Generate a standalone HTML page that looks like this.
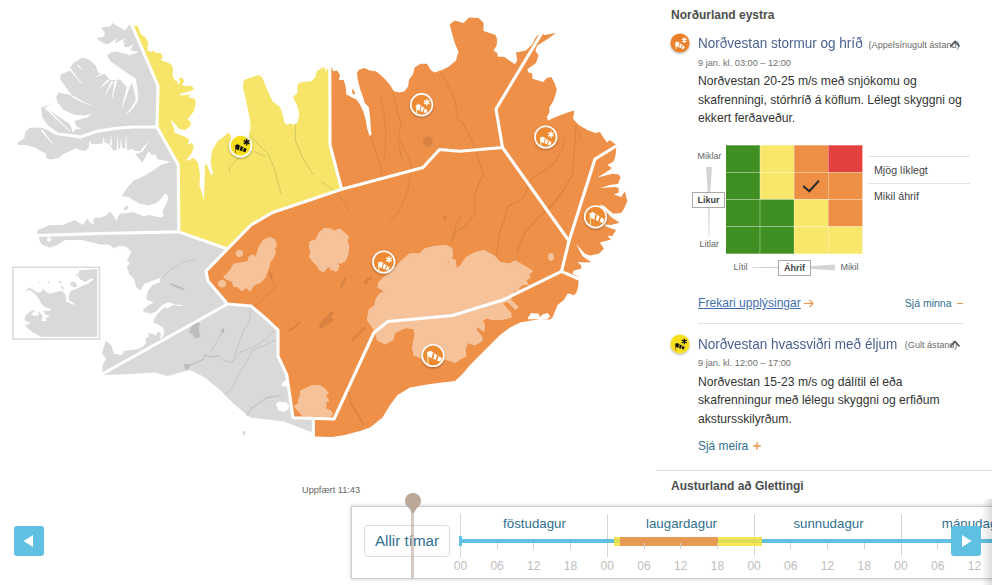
<!DOCTYPE html>
<html>
<head>
<meta charset="utf-8">
<title>Viðvaranir</title>
<style>
*{box-sizing:border-box;margin:0;padding:0}
html,body{width:992px;height:585px;overflow:hidden;background:#fff;font-family:"Liberation Sans",sans-serif;color:#333}
#wrap{position:relative;width:992px;height:585px;overflow:hidden;background:#fff}
#map{position:absolute;left:0;top:0;width:656px;height:470px}
.abs{position:absolute;white-space:nowrap}
/* right panel */
#panel{position:absolute;left:656px;top:0;width:336px;height:500px;background:#fff}
.h3{position:absolute;left:15px;font-weight:bold;font-size:12px;color:#4e4e4e;white-space:nowrap}
.ttl{position:absolute;left:42px;font-size:13.55px;line-height:16px;color:#4a6391;white-space:nowrap}
.tt{display:inline-block;font-size:14.4px;transform:scaleX(.94);transform-origin:0 50%}
.sm{position:absolute;font-size:9.1px;line-height:10px;color:#6a6a6a;white-space:nowrap}
.dt{position:absolute;left:42px;font-size:9.2px;color:#707070;white-space:nowrap}
.bd{position:absolute;left:42px;font-size:12.15px;line-height:18.5px;color:#333;white-space:nowrap}
.lnk{color:#2f6f8f}
.or{color:#ec9447}
.hr{position:absolute;height:1px;background:#e4e4e4}
/* timeline */
#tl{position:absolute;left:351px;top:506px;width:660px;height:72.5px;border:1.3px solid #cdcdcd;background:#fff;box-shadow:0 0 4px rgba(0,0,0,.22)}
.day{position:absolute;top:515.5px;font-size:13.3px;color:#2f6f8f;text-align:center;width:147px;white-space:nowrap}
.hrl{position:absolute;top:559px;font-size:12px;color:#bdbdbd;width:30px;text-align:center}
.sep{position:absolute;top:514px;width:1px;height:42.5px;background:#d6d6d6}
.tick{position:absolute;top:543px;width:1px;height:6px;background:#d0d0d0}
.btn{position:absolute;width:30px;height:30px;border-radius:3px;background:#5fc0e2}
</style>
</head>
<body>
<div id="wrap">

<svg id="map" width="656" height="470" viewBox="0 0 656 470">
<defs>
<g id="sockL"><path d="M-5.5 -3.8 L-4.9 8.2" stroke="#fff" stroke-width=".9" fill="none"/><path d="M-5.1 -3 L-4.6 8" stroke="#f6d24a" stroke-width=".5" fill="none"/>
<path d="M-5.3 -3.6 L-2.6 -4.7 L9 2.8 L7.1 6.3 L-4.8 1 Z" fill="#fff"/>
<path d="M-0.10 -2.80 L1.46 -1.84 L0.31 3.23 L-1.09 2.59 Z M4.06 -0.24 L5.62 0.72 L4.06 4.92 L2.65 4.29 Z" fill="#e9822c"/></g>
<g id="sockS"><path d="M-5.4 .3 L-4.8 8.4" stroke="#fff" stroke-width=".9" fill="none"/><path d="M-5 1 L-4.5 8.2" stroke="#f6d24a" stroke-width=".5" fill="none"/>
<path d="M-5.2 .4 L-2.9 -.6 L5.9 5.6 L4.4 8.5 L-4.7 5 Z" fill="#fff"/>
<path d="M-0.93 1.18 L-0.02 1.77 L-0.99 6.41 L-1.83 6.09 Z M2.33 3.29 L3.25 3.88 L1.98 7.56 L1.15 7.24 Z" fill="#e9822c"/></g>
<g id="sockK"><path d="M-5.3 -.9 L-4.85 7.5" stroke="#9a5a2a" stroke-width=".9" fill="none"/>
<path d="M-5.1 -.8 L-3 -1.5 L6.1 3.3 L4.8 6.4 L-4.8 3.4 Z" fill="#111"/>
<path d="M-0.80 -0.12 L0.13 0.34 L-0.77 4.60 L-1.63 4.32 Z M2.50 1.51 L3.42 1.97 L2.30 5.59 L1.44 5.32 Z" fill="#f8df1f"/></g>
<g id="flakeW"><path d="M0 -3.3 L0 3.3 M-2.86 -1.65 L2.86 1.65 M-2.86 1.65 L2.86 -1.65" stroke="#fff" stroke-width="1.45" fill="none"/></g>
<g id="flakeK"><path d="M0 -3.3 L0 3.3 M-2.86 -1.65 L2.86 1.65 M-2.86 1.65 L2.86 -1.65" stroke="#111" stroke-width="1.45" fill="none"/></g>
<filter id="sh" x="-30%" y="-30%" width="160%" height="170%"><feGaussianBlur in="SourceAlpha" stdDeviation="0.8"/><feOffset dy="1"/><feComponentTransfer><feFuncA type="linear" slope=".35"/></feComponentTransfer><feMerge><feMergeNode/><feMergeNode in="SourceGraphic"/></feMerge></filter>
</defs>
<path d="M131.5 25.5 L129 25 L125.3 30.3 L118.9 27 L112.4 23 L110.8 26.3 L101.1 27.5 L105.2 33.5 L103.5 36.8 L96.7 38 L100.3 41.6 L106.8 44.4 L112.4 41.6 L116.5 38 L114.8 43.6 L121.3 40 L124.5 38.4 L122.9 43.2 L125.3 47.3 L130.2 46.5 L133.4 43.6 L132 47.5 L130.2 50.5 L135 51 L139 51.7 L135 53.5 L131 54.5 L129.4 55.5 L125 53.5 L121.3 53 L116.5 51.3 L111 52.5 L107.2 55.3 L110 61 L120 68 L130 75 L135 78 L133 81 L130 87 L126 86 L120 79.5 L115 80 L110 80 L105 74 L98 72.5 L96 66 L90 60 L82.5 57.5 L74 62.5 L70 67.5 L71 70.5 L61 74 L60 79 L65 86.25 L72.5 96 L68.75 94.4 L58.75 92.5 L56 97 L57.5 102.5 L50 104.5 L41 107.5 L42.5 117.5 L47.5 125 L57.5 132.5 L63.75 135.5 L56 135 L47.5 130 L42.5 128 L36 127.5 L29.4 128 L25 132.5 L24.4 138 L17.5 142.5 L18 145 L26 145 L35 147.5 L41 151 L46 153.75 L46 157.5 L50 159.4 L58.75 158 L63.75 153.75 L72.5 150 L77 148 L78.75 150 L85 151 L88.75 147.5 L89.5 143 L92.5 144 L97.5 144 L101 143.75 L106 142.5 L110 145 L113.75 151 L118.75 148.75 L123 148 L128.75 150 L132.5 148.75 L135 151 L140 151 L142.5 152 L135 154 L142.5 162.5 L148.75 151 L152 155.6 L155 154 L158 160 L170 162 L161 165 L150 172.5 L141 177.5 L133.75 180.6 L127.5 187.5 L123 193.75 L122 196.25 L128.75 197 L133.75 200.6 L140 203.75 L148.75 205.6 L156.25 203 L161.25 198.75 L163.75 194.4 L166.25 193.75 L168 196.25 L167.5 201.25 L165 206.25 L162.5 211.25 L163.75 215 L161.9 217.5 L155 216.25 L148.75 215 L143.75 216.25 L137.5 213.75 L132.5 211.9 L127.5 213 L120 213.75 L117.5 217.5 L116.9 221.25 L113.75 216.25 L110 211.5 L106.25 215.6 L99.4 218 L95 217.5 L93 220 L94.4 224.4 L90 222.5 L87.5 218.5 L82.5 225 L75 220 L62.5 225 L50 225 L37.5 230 L37.5 236 L100 234 L180 232.5 L179.2 165 L158 127 L159 86 Z" fill="#d9d9d9"/>
<path d="M37.5 235 L100 233 L179.5 231.5 L227.5 249 L206 271.2 L208 281 L227.5 304 L251 306 L267.5 320 L278 330 L278 356 L286.8 375 L293 417.8 L314 419 L314 436 L313.5 436 L311.4 432.2 L299.5 427.4 L284 421.4 L267.5 419.5 L250 417.5 L235 405 L220 390 L205 377.5 L190 370 L180 372.5 L167.5 376 L155 372.5 L130 374 L102.5 375 L102.5 370 L102.5 365 L106.25 358.75 L101.9 353.75 L103.75 347.5 L105.6 340.6 L111.25 345 L113.75 353.75 L121.9 355 L123.75 351.25 L130 350 L136.25 349.4 L142.5 346.9 L146.25 343 L145 338.75 L149.4 336.25 L147.5 333 L152.5 333.75 L156.25 335.6 L157.5 331.25 L161.25 333.75 L160 338.75 L162.5 337.5 L164.4 332.5 L163 327.5 L156.25 323.75 L153 322.5 L155 317.5 L160 311.25 L165 306.9 L167.5 308.75 L172.5 305 L181.25 306.25 L182.5 305 L175 304.4 L168.75 301.9 L162.5 305 L156.25 311.25 L151.25 313.75 L145 312.5 L142.5 310.6 L148.75 305 L153.75 302.5 L147.5 300 L146.25 298.25 L148 290.75 L152.5 285 L160 282 L161.25 277.6 L152.5 280.75 L144.4 283.9 L140 290.75 L136.25 287 L133.75 278.25 L129.4 274.5 L126.9 266.4 L130 263.25 L126.9 260.75 L131.25 252 L126.25 246.4 L118.75 245.75 L113.75 248.25 L108.75 244.5 L100 244.5 L82.5 240 L65 240 L57.5 245 L50 247.5 L41 244 L39 237.5 Z" fill="#d9d9d9"/>
<path d="M131.5 25.5 L136 26 L137.5 25.4 L139.4 30 L140.6 33.75 L145.6 37.5 L148 42.5 L147.5 50.6 L151.9 51.9 L154.4 50 L155 52.75 L160.6 53 L163 56.9 L160.6 60 L167.5 62.5 L171.9 65 L173 70 L172.5 76.25 L175 80.6 L177.5 81.25 L177.5 85 L180 82.5 L178.75 78.75 L181.25 77.5 L184.4 80.6 L181.9 84.4 L185 86.25 L190.6 85.6 L194.4 88.75 L191 91 L180 93.75 L180.6 95.6 L190 94.4 L188.75 97.5 L195 98.75 L195.6 103.75 L193.75 111.25 L187.5 119.4 L191.25 122.5 L190 126.25 L185 130 L178.75 128.75 L175 123.75 L170 119.4 L173.75 127.5 L174.4 132.5 L177.5 133.75 L186.25 137.5 L189.4 139.4 L187.5 145 L191.9 143 L193.75 146.25 L191.9 153 L185.6 161.25 L193.75 158 L198 162.5 L200 175 L199.4 185 L202.5 195 L204 200 L204.4 183.75 L205 165 L206.9 163.75 L208.75 170 L211.9 175.6 L213 173.75 L210.6 162.5 L211.9 151.25 L217.5 141.25 L228.75 132.5 L230.6 135.6 L231 142 L236 147 L243 148 L248 142 L249.4 133 L250.6 127.5 L250 120 L248 110 L245 96.25 L243 87.5 L243.75 80 L258 75 L262 76.9 L266.25 87.5 L272.5 101.25 L280 106.9 L282.5 113.75 L284.4 122.5 L286.9 125 L290 123 L293 125 L297.5 122.5 L299.4 115 L297.5 106.25 L293 96.9 L297.5 93 L297.5 85 L300 82.5 L311.25 81.25 L315 77.5 L316.9 71.25 L322.5 67.5 L325 68 L325.6 71.9 L327.5 68.75 L329 68 L330.5 100 L330.5 145 L342 189.8 L272.5 213 L251 225.5 L227.5 249.5 L178.8 232.5 L178.3 165 L157 127 L157.5 86 Z" fill="#f6e568"/>
<path d="M329.5 66 L331.4 66.9 L333.25 71.25 L337 70.6 L340 75 L339 80 L343.9 80 L345.75 87.5 L346.4 94.4 L352 97.5 L356.4 99.4 L359.5 103.75 L363.25 111.25 L365.75 120 L367 128 L369.5 136 L371.5 135 L370.75 128 L370 116.25 L368.9 107.5 L364.5 102.5 L363.25 97.5 L360 88.75 L357.6 78.75 L357 72.5 L359.5 69.4 L364.5 68 L369.5 70.6 L375.75 71.25 L380.75 75 L385.75 80 L390 85 L393.9 91.25 L399.5 92.5 L404.5 91.25 L408.25 86.25 L408.9 80 L413.25 73.75 L414.5 67.5 L420.75 63.75 L427 63.75 L430.75 70 L434.5 72.5 L442 70 L448.5 66.75 L456 60.5 L458.5 51.75 L454.75 43 L451.6 31.75 L449.75 24.25 L454.75 20.5 L463.5 23 L469 17.4 L478.5 18 L483.5 22.4 L483.5 31 L489.75 33 L495.4 34.9 L497.25 39.25 L496.6 45.5 L493.5 50.5 L497.25 53 L497.9 56.75 L504 56.75 L514.75 64.25 L517.25 60.5 L516 52.4 L526 50.5 L532.25 44.25 L536 36.75 L541.6 33 L544.75 34.9 L556 33 L548.5 38.6 L537.25 45.5 L535.4 50.5 L538.5 55.5 L536 63 L527.25 69.25 L528.5 72.4 L532.25 73.6 L532.5 78.75 L543 81.9 L546.9 78 L551.25 76.9 L554.4 82.5 L556.9 90 L553.75 100 L549.4 107.5 L549.4 112.5 L546.9 116.9 L548 120.6 L557.5 116.25 L567.5 112.5 L574.4 110.6 L573 118.75 L578.75 125 L587.5 130 L595 133 L600 131.9 L602.5 136.25 L606.9 142.5 L610 140 L616.25 145 L616.25 148 L615.6 155 L613.75 161.25 L607.5 165 L611.9 168 L607.5 171.25 L597.5 177.5 L612.5 173.75 L618.75 174.4 L620.6 177.5 L618 183.75 L610 185 L600 188 L615 186.9 L618.75 188 L618.75 192.5 L613.75 194.4 L621.25 196.9 L625 191.25 L627.25 201.25 L624 208.75 L621 213 L613.5 213.75 L608.5 210 L604.75 206.25 L599 204.4 L606 211.25 L611 216.9 L614.75 219.4 L619.75 222.75 L611 225 L605.4 224.4 L605.4 226.25 L616 230 L612.25 236.25 L607.25 235.6 L611 239.4 L599.75 242.5 L604 248.75 L598.75 253.75 L590 255.6 L585 253.75 L578 246 L576 243.75 L582.5 256.25 L591.25 261.9 L586.25 262.5 L577.5 261.9 L581.25 265.6 L581.25 268.75 L573.75 270.6 L572.5 273.75 L578.75 276.9 L578.75 280.6 L578 287.5 L576.25 293 L573 295.6 L571.25 293.75 L567.5 293.75 L563.75 300 L557.5 305 L555 311.25 L552.5 317.5 L550 319.4 L540 319 L520 322.5 L510 327.5 L500 335 L490 345 L480 355 L470 365 L462.5 374 L455 381 L430 384 L410 387.5 L397.5 395 L390 405 L382.5 417.5 L370 427.5 L360 431 L343.7 435.2 L331.8 437 L315 436.6 L313 436.5 L313 418 L293 417.8 L286.8 375 L278 356 L278 330 L267.5 320 L251 306 L227.5 304 L208 281 L206 271.2 L227.5 249 L251 225 L272.5 212.5 L341.7 189.3 L330 145 Z" fill="#ee9048"/>
<path d="M242.5 431 L246 431.5 L244 436.5 Z" fill="#d9d9d9"/>
<path d="M124 207.5 L128 205.6 L127.5 209.4 L124.4 210.6 Z" fill="#d9d9d9"/>
<path d="M346 384 L348.5 391.5 L350.9 403.5 L355.7 410.7 L360 417.8 L363 425" fill="none" stroke="#d98241" stroke-width="1.5" stroke-linejoin="round" stroke-linecap="round"/>
<path d="M461 120 L468 133 L475.7 150 L483.2 174.4 L474.8 193.2 L474.8 213.9 L464.4 227 L453.2 232.7 L451.3 244" fill="none" stroke="#d98541" stroke-width="1.15" stroke-linejoin="round" stroke-linecap="round"/>
<path d="M576 126 L574.4 150 L572.5 174.4 L564 189.5" fill="none" stroke="#d98541" stroke-width="1.15" stroke-linejoin="round" stroke-linecap="round"/>
<path d="M564 189.5 L558 198 L552.8 204.5 L546 211" fill="none" stroke="#d98241" stroke-width="1.7" stroke-linejoin="round" stroke-linecap="round"/>
<path d="M546 211 L537.7 217.7 L524.6 232.7 L517 251.5" fill="none" stroke="#d98541" stroke-width="1.15" stroke-linejoin="round" stroke-linecap="round"/>
<path d="M565 137.5 L562.2 150 L552.8 165 L532.1 178.2 L522.7 198.9 L507.7 206.4 L503.9 221.4 L500.2 229 L496.4 255" fill="none" stroke="#d98541" stroke-width="1.15" stroke-linejoin="round" stroke-linecap="round"/>
<path d="M578.75 130 L581 141" fill="none" stroke="#d98541" stroke-width="1" stroke-linejoin="round" stroke-linecap="round"/>
<path d="M441 72 L448 85 L455 100 L458 120" fill="none" stroke="#d98541" stroke-width="1" stroke-linejoin="round" stroke-linecap="round"/>
<path d="M393 92 L397 110 L401 125 L398 140 L402 160" fill="none" stroke="#d98541" stroke-width="1" stroke-linejoin="round" stroke-linecap="round"/>
<path d="M400 140 L412 165 L408 190 L400 210 L390 222" fill="none" stroke="#d98541" stroke-width="1" stroke-linejoin="round" stroke-linecap="round"/>
<path d="M371 135 L375 150 L380 165 L383 180" fill="none" stroke="#d98541" stroke-width="1" stroke-linejoin="round" stroke-linecap="round"/>
<path d="M380 95 L384 115 L386 135 L384 160" fill="none" stroke="#d98541" stroke-width="1" stroke-linejoin="round" stroke-linecap="round"/>
<path d="M270 277 L276 287.5 L265 297.5 L257.5 305 L252 307" fill="none" stroke="#d98541" stroke-width="1" stroke-linejoin="round" stroke-linecap="round"/>
<path d="M454 240 L456 225 L462 215" fill="none" stroke="#d98541" stroke-width="1" stroke-linejoin="round" stroke-linecap="round"/>
<path d="M250 135.8 L259.2 145 L268.5 154.2 L274.6 169.6 L279.2 186.5 L280.8 193.5" fill="none" stroke="#cdc562" stroke-width="0.9" stroke-linejoin="round" stroke-linecap="round"/>
<path d="M253.8 151.2 L260 154.5 L265.4 155.8" fill="none" stroke="#cdc562" stroke-width="0.9" stroke-linejoin="round" stroke-linecap="round"/>
<path d="M243 156 L236 160 L229 168 L230 172" fill="none" stroke="#cdc562" stroke-width="0.9" stroke-linejoin="round" stroke-linecap="round"/>
<path d="M295.4 125 L295.4 140.4 L302.3 157.3 L313.1 174.2" fill="none" stroke="#cdc562" stroke-width="0.9" stroke-linejoin="round" stroke-linecap="round"/>
<path d="M321.5 182 L334.6 191.2" fill="none" stroke="#cdc562" stroke-width="0.9" stroke-linejoin="round" stroke-linecap="round"/>
<path d="M338 194 L343.8 202 L349 212" fill="none" stroke="#d98541" stroke-width="0.9" stroke-linejoin="round" stroke-linecap="round"/>
<path d="M276 329 L265 340 L252.5 347.5 L240 352.5 L232.5 362.5 L225 361 L219 356" fill="none" stroke="#c3c3c3" stroke-width="0.9" stroke-linejoin="round" stroke-linecap="round"/>
<path d="M219 356 L212 357 L205 355 L202.5 360 L195 363 L188.5 366" fill="none" stroke="#c3c3c3" stroke-width="1.4" stroke-linejoin="round" stroke-linecap="round"/>
<path d="M276 340 L265 345 L252.5 350 L247.5 360 L237.5 376 L232 388 L226 394" fill="none" stroke="#c3c3c3" stroke-width="0.9" stroke-linejoin="round" stroke-linecap="round"/>
<path d="M251 307 L249 322.5 L244 330 L240 340 L236 352 L232.5 362.5" fill="none" stroke="#c3c3c3" stroke-width="0.9" stroke-linejoin="round" stroke-linecap="round"/>
<path d="M280.3 395.7 L267.2 397.5 L260 402.3 L252 408 L247 415" fill="none" stroke="#c3c3c3" stroke-width="1.3" stroke-linejoin="round" stroke-linecap="round"/>
<path d="M160 280 L170 270 L182 262 L195 260" fill="none" stroke="#c3c3c3" stroke-width="0.8" stroke-linejoin="round" stroke-linecap="round"/>
<path d="M222 332 L215 345 L210 352" fill="none" stroke="#c3c3c3" stroke-width="0.8" stroke-linejoin="round" stroke-linecap="round"/>
<path d="M446.9 217.7 L446.5 218.8 L445.4 219.4 L444 219.4 L442.9 218.8 L442.5 217.7 L442.9 216.6 L444 216 L445.4 216 L446.5 216.6 Z" fill="#d98241"/>
<path d="M188.75 332.5 L191 327 L193.75 322.5 L200 323 L198.75 328.75 L200.6 336.9 L195 338.2 L192.5 334.4 Z" fill="#bdbdbd"/>
<path d="M221 330 L224 328 L224.5 332 L221.5 334 Z" fill="#bdbdbd"/>
<path d="M184 364 L189.5 364 L189 369 L185 369.5 Z" fill="#bdbdbd"/>
<path d="M170 283 L176 285 L185 289 L184 290.5 L175 287 L170 284.5 Z" fill="#bdbdbd"/>
<path d="M424 138 L429 136 L433 139 L432 144 L428 147.5 L424 145 L422.5 141 Z" fill="#d98241"/>
<path d="M319 326 L322 320 L327 316 L331 311 L334 312 L331 318 L335 319 L330 323 L324 327 L320 329 Z" fill="#d98241"/>
<path d="M351 340 L358 333 L364.5 326.5 L366 328 L359 335 L352 342 Z" fill="#d98241"/>
<path d="M340 288 L342 281 L345.5 276.5 L347 278 L344 284 L341.5 289.5 Z" fill="#d98241"/>
<path d="M363 282 L367 278.5 L371.5 276 L372 279 L368.5 281 L366 284.5 Z" fill="#d98241"/>
<path d="M268 271 L272 273 L273 279 L270 278 Z" fill="#d98241"/>
<path d="M288 330 L293 327 L299 321.5 L300 323 L294 329 L289 331.5 Z" fill="#d98241"/>
<path d="M263.75 240 L270 237.5 L275 240 L276.25 246.25 L273.75 248.75 L275.6 252.5 L272.5 258.75 L270 261.25 L268.75 267.5 L266.25 273.75 L265 277.5 L260 282.5 L253.75 285 L250 291 L246 287 L242 290.5 L238 287 L233.75 286.25 L232.5 281.25 L227.5 279.4 L223.75 276.9 L227.5 273.75 L231.25 268.75 L233.75 264.4 L240 263 L248.75 261.25 L248.75 257.5 L252.5 255 L256.25 257.5 L257.5 252.5 L259.4 246.25 Z" fill="#f6c29a" stroke="#f6c29a" stroke-width="1.2" stroke-linejoin="round"/>
<path d="M242.2 253.5 L242.2 255.1 L240.8 255.9 L239.4 256.7 L238 255.9 L236.6 255.1 L236.6 253.5 L236.6 251.9 L238 251.1 L239.4 250.3 L240.8 251.1 L242.2 251.9 Z" fill="#f6c29a" stroke="#f6c29a" stroke-width="1.2" stroke-linejoin="round"/>
<path d="M225.4 283.8 L225.3 285.4 L223.7 286.4 L222 287.1 L220.3 286.4 L218.7 285.4 L218.6 283.8 L218.7 282.1 L220.3 281.1 L222 280.4 L223.7 281.1 L225.3 282.1 Z" fill="#f6c29a" stroke="#f6c29a" stroke-width="1.2" stroke-linejoin="round"/>
<path d="M310 242.1 L312.9 240.9 L316 240 L318.9 233.2 L324.3 228.4 L330.9 229 L334.5 231.4 L339.9 229 L343.4 232 L348.2 236.7 L347 241.5 L348.8 246.3 L347.6 254.7 L345.2 260.7 L341.1 263.1 L336.3 262.5 L338.7 266.1 L337.5 270.2 L335.1 271.4 L333.3 269 L330.9 270.2 L330.3 266.1 L326.7 267.8 L323.7 272 L320.1 270.2 L317.1 265.5 L312.9 261.3 L309.4 255.9 L311.1 252.3 L309.4 246.9 Z" fill="#f6c29a" stroke="#f6c29a" stroke-width="1.2" stroke-linejoin="round"/>
<path d="M402.5 260 L410 253.75 L420 253.75 L425 248.75 L435 246.25 L446.25 245.6 L451.9 248.75 L452.5 256.25 L447.5 261.25 L447.5 265 L451.25 258.75 L455 260 L456.25 267.5 L453 271.9 L460 266.25 L466.25 257.5 L475 252.5 L484 250.6 L494 256 L500 262.5 L510 264 L515 261 L522.5 265 L532.5 271 L528.75 273.75 L530 277.5 L525.6 280 L528 284.4 L522.5 284.4 L518.75 287.5 L518.75 291.25 L512.5 290 L513.75 293 L510 299.4 L518 306.9 L515.6 309.4 L507.5 301.5 L502 303 L510.6 313 L511.25 316.9 L502.5 319.4 L492.5 319.4 L486.25 318 L482.5 320.6 L484.4 325 L483.75 331.25 L477.5 326.25 L476.25 330 L481.25 336.25 L482.5 340 L475 345 L467.5 342.5 L465 350 L466 356 L460 359 L455 362.5 L445 359 L437 364 L425 362.5 L420 357.5 L414 355 L412.5 347.5 L415 335 L414 329 L406 327.5 L395 332.5 L392.5 340 L385 344 L377.5 340 L375 331 L367.5 320 L369 310 L375 305 L376 299 L380 293.75 L385 291.25 L378 287.5 L378.75 282.5 L386 276 L393.75 270 Z" fill="#f6c29a" stroke="#f6c29a" stroke-width="1.2" stroke-linejoin="round"/>
<path d="M300.7 391 L306.7 388 L312.6 385.5 L319.8 385.5 L324.6 389 L328.2 393.3 L325.2 395.7 L328.8 401 L325.2 402.3 L326.4 405.9 L324.6 408.3 L330.6 410.7 L332.4 413.7 L330.6 416.7 L324.6 417.2 L317.4 416 L307.8 416.7 L301.9 414.9 L298.3 410.7 L294.6 406.5 L298.3 403.5 L298.9 398.7 L300.7 395 Z" fill="#f6c29a" stroke="#f6c29a" stroke-width="1.2" stroke-linejoin="round"/>
<path d="M553.3 257 L553.2 258.2 L552.8 259.2 L552.1 259.9 L551.4 260.3 L550.6 260.3 L549.9 259.9 L549.2 259.2 L548.8 258.2 L548.7 257 L548.8 255.8 L549.2 254.8 L549.9 254.1 L550.6 253.7 L551.4 253.7 L552.1 254.1 L552.8 254.8 L553.2 255.8 Z" fill="#f6c29a" stroke="#f6c29a" stroke-width="1.2" stroke-linejoin="round"/>
<path d="M57.5 102.5 L63.75 110 L75 115 L85 115.6 L91.25 113.75 L87.5 117.5 L80 119.5 L74.5 121 L76.5 126.5 L82 128.8 L76 129 L72.5 133 L71.5 127.5 L69.5 124 L60 117.5 L45.6 107.5 L50 104.5 Z" fill="#fff"/>
<path d="M275.5 404 L278 402.6 L279.7 401.5 L283 402.5 L285.7 402 L289.3 405.3 L288.6 408 L288.1 410.2 L285.5 410.5 L283.9 412 L281 410.8 L278 410.3 L277.5 407.5 Z" fill="#fff"/>
<path d="M281.5 384.4 L283.5 381.5 L285.1 380.6 L288.1 382 L286.9 386.1 L283.3 386.9 Z" fill="#fff"/>
<path d="M51.2 239.5 L51.1 240.3 L50.7 240.9 L50.1 241.4 L49.4 241.7 L48.6 241.7 L47.9 241.4 L47.3 240.9 L46.9 240.3 L46.8 239.5 L46.9 238.7 L47.3 238.1 L47.9 237.6 L48.6 237.3 L49.4 237.3 L50.1 237.6 L50.7 238.1 L51.1 238.7 Z" fill="#fff"/>
<path d="M528 317.5 L531.25 313 L538.75 313.75 L540 317.3 L542.5 314.4 L547.5 313 L550.3 316.25 L547.5 318.9 L528 319.2 Z" fill="#fff"/>
<path d="M72.1 96.89 L81.02 101.72 L90.5 105.43 L90.7 104.97 L81.48 100.78 L72.9 95.51 Z" fill="#fff"/>
<path d="M77.07 65.42 L82.86 70.74 L83.14 70.46 L77.93 64.58 Z" fill="#fff"/>
<path d="M69.29 69.55 L76.63 78.32 L82.36 83.89 L82.64 83.61 L77.37 77.68 L70.71 68.45 Z" fill="#fff"/>
<path d="M103.96 71.43 L95.49 76.78 L95.71 77.22 L105.04 73.57 Z" fill="#fff"/>
<path d="M107.72 79.22 L100.82 87.32 L101.18 87.68 L109.28 80.78 Z" fill="#fff"/>
<path d="M111.54 80.97 L104.78 94.88 L105.22 95.12 L113.46 82.03 Z" fill="#fff"/>
<path d="M114.73 80.21 L111.76 97.94 L112.24 98.06 L117.27 80.79 Z" fill="#fff"/>
<path d="M127.16 85.6 L121.71 107.91 L122.29 108.09 L129.84 86.4 Z" fill="#fff"/>
<path d="M131.25 79.47 L134.35 91.28 L135.81 99.75 L131.87 107.05 L126.74 113.52 L127.26 113.98 L133.13 107.95 L138.19 100.25 L137.65 90.72 L135.75 78.53 Z" fill="#fff"/>
<path d="M44.86 108.14 L57.61 120.4 L69.83 131.43 L70.17 131.07 L58.39 119.6 L46.14 106.86 Z" fill="#fff"/>
<path d="M40.8 130.57 L53.6 145.13 L53.9 144.87 L42.2 129.43 Z" fill="#fff"/>
<path d="M104.75 143.5 L103.95 137 L103.55 137 L102.75 143.5 Z" fill="#fff"/>
<path d="M112 145 L111.2 136 L110.8 136 L110 145 Z" fill="#fff"/>
<path d="M118.4 150 L117.7 137.5 L117.3 137.5 L116.6 150 Z" fill="#fff"/>
<path d="M121.9 149 L121.2 138.75 L120.8 138.75 L120.1 149 Z" fill="#fff"/>
<path d="M127 150 L126.2 136 L125.8 136 L125 150 Z" fill="#fff"/>
<path d="M142.47 151.7 L148.91 141.12 L148.59 140.88 L140.53 150.3 Z" fill="#fff"/>
<path d="M157.35 161.79 L169.97 162.25 L170.03 161.75 L157.65 159.21 Z" fill="#fff"/>
<path d="M91 147 L90.25 141 L89.75 141 L89 147 Z" fill="#fff"/>
<path d="M120.23 45.55 L126.08 42.68 L125.92 42.32 L119.77 44.45 Z" fill="#fff"/>
<path d="M131.6 24.5 L145.8 57.5 L158 86 L157 127 L178.3 165 L178.8 231.8" fill="none" stroke="#fff" stroke-width="3.1" stroke-linejoin="round" stroke-linecap="butt"/>
<path d="M60 134.3 L75 136 L80 137 L97.5 131.3 L116 128.2 L134 127 L157 127" fill="none" stroke="#fff" stroke-width="3.1" stroke-linejoin="round" stroke-linecap="butt"/>
<path d="M36.5 235.5 L100 233.5 L178.8 231.9 L227.5 249" fill="none" stroke="#fff" stroke-width="3.1" stroke-linejoin="round" stroke-linecap="butt"/>
<path d="M329.8 65 L330 145 L341.7 189.3" fill="none" stroke="#fff" stroke-width="3.1" stroke-linejoin="round" stroke-linecap="butt"/>
<path d="M541.8 33 L496 109 L502.5 147.5 L569 241 L561.5 271.3 L503.5 299.8 L452.5 315.5 L388 321.5 L374 332.5 L334 419 L293 417.8 L286.8 375 L278 356 L278 330 L267.5 320 L251 306 L227.5 304 L208 281 L206 271.2 L227.5 249 L251 225 L272.5 212.5 L341.7 189.3 L423 167.5 L439.5 149.5 L459.5 151.3 L502.5 147.5" fill="none" stroke="#fff" stroke-width="3.1" stroke-linejoin="round" stroke-linecap="butt"/>
<path d="M617 145.5 L595 159 L569 241" fill="none" stroke="#fff" stroke-width="3.1" stroke-linejoin="round" stroke-linecap="butt"/>
<path d="M561.5 271.3 L580 279.5" fill="none" stroke="#fff" stroke-width="3.1" stroke-linejoin="round" stroke-linecap="butt"/>
<path d="M227.5 304 L101.5 374.5" fill="none" stroke="#fff" stroke-width="3.1" stroke-linejoin="round" stroke-linecap="butt"/>
<path d="M313.4 418.5 L313.4 437" fill="none" stroke="#fff" stroke-width="3.1" stroke-linejoin="round" stroke-linecap="butt"/>
<path d="M352.6 88.6 L355 92.5 L353.9 95.2 L352 92 Z" fill="#ee9048"/><rect x="12.9" y="267.3" width="86.6" height="71.8" fill="#fff" stroke="#d9d9d9" stroke-width="1.5"/><path d="M97.2 269.1 L79.5 270.3 L78.1 274.7 L79.5 279.1 L85.4 282.1 L91.3 278.4 L93.8 279.6 L88.4 283.5 L82.5 285.7 L75.1 289.4 L70.7 290.9 L68.5 296.8 L69.2 300.4 L74.4 303.4 L73.6 304.9 L67.8 301.9 L65.6 301.9 L66.3 298.2 L64.8 293.8 L61.9 290.9 L57.5 291.6 L50.1 293.8 L45.7 291.6 L43.5 288.7 L41.3 291.6 L37.6 293.1 L33.9 290.1 L28.8 287.2 L28.1 288.7 L25.1 291.6 L29.5 290.1 L33.9 293.1 L37.6 296.8 L40.6 302.6 L44.2 307.1 L51.6 309.3 L50.1 310.7 L42.8 310.7 L45.7 314.4 L50.1 316.6 L45.7 318.1 L46.4 321 L41.3 321 L42.8 316.6 L39.8 312.2 L37.6 310.7 L39.1 315.1 L33.9 315.9 L31 313.7 L34.7 311.5 L33.2 310 L28.1 312.9 L25.1 316.6 L24.4 320.3 L29.5 322.5 L30.3 324 L25.1 324.7 L28.1 329.1 L32.5 332.1 L37.6 335 L41.3 336.8 L97.2 336.8 Z" fill="#d9d9d9"/><path d="M70 283.5 L72.2 281.6 L75.9 282.8 L77.3 286.2 L74.4 287.4 L71.4 285.7 Z" fill="#d9d9d9"/><path d="M58.6 281.3 L60.7 281 L61.6 282.9 L59.7 283.2 Z" fill="#d9d9d9"/><path d="M61.1 285.3 L62.6 286.5 L63.6 289.4 L62.5 289.7 L61.3 287.6 Z" fill="#d9d9d9"/><path d="M47.8 280.9 L49.2 281.5 L49.8 283.5 L48.6 283.5 Z" fill="#d9d9d9"/><path d="M38.4 281.5 L39.5 281.8 L39.7 282.9 L38.6 282.8 Z" fill="#d9d9d9"/><path d="M75.7 274.7 L77.5 274.4 L77.8 276.2 L76.3 276.5 Z" fill="#d9d9d9"/><g transform="translate(240.6 145.8)"><circle r="10.8" fill="#f8df1f" stroke="#fff" stroke-width="1.6" filter="url(#sh)"/><use href="#sockK"/><use href="#flakeK" x="6" y="-3.7"/></g><g transform="translate(421.6 104.7)"><circle r="10.8" fill="#ee8a33" stroke="#fff" stroke-width="1.6" filter="url(#sh)"/><use href="#sockS"/><use href="#flakeW" x="5.2" y="-2.5"/></g><g transform="translate(545.75 137)"><circle r="10.8" fill="#ee8a33" stroke="#fff" stroke-width="1.6" filter="url(#sh)"/><use href="#sockS"/><use href="#flakeW" x="5.2" y="-2.5"/></g><g transform="translate(595.5 216.8)"><circle r="10.8" fill="#ee8a33" stroke="#fff" stroke-width="1.6" filter="url(#sh)"/><use href="#sockL"/></g><g transform="translate(383.75 262)"><circle r="10.8" fill="#ee8a33" stroke="#fff" stroke-width="1.6" filter="url(#sh)"/><use href="#sockS"/><use href="#flakeW" x="5.2" y="-2.5"/></g><g transform="translate(433 355.5)"><circle r="10.8" fill="#ee8a33" stroke="#fff" stroke-width="1.6" filter="url(#sh)"/><use href="#sockL"/></g>
</svg>

<div id="panel">
  <div class="h3" style="top:8px">Norðurland eystra</div>
  <svg class="abs" style="left:12.7px;top:32.1px" width="22" height="24" viewBox="0 0 22 24"><g transform="translate(11 11)"><circle r="9.5" fill="#ea8129" filter="url(#sh)"/><g transform="translate(0 -.9) scale(.83)"><use href="#sockS"/><use href="#flakeW" x="5.2" y="-2.3"/></g></g></svg>
  <div class="ttl" style="top:35.2px"><span class="tt">Norðvestan stormur og hríð</span></div><div class="sm" style="left:212.6px;top:39.6px">(Appelsínugult ástand)</div>
  <svg class="abs" style="left:293px;top:39px" width="12" height="9" viewBox="0 0 12 9"><path d="M1.5 7.5 L6 2.5 L10.5 7.5" fill="none" stroke="#555" stroke-width="1.6"/></svg>
  <div class="dt" style="top:57.6px">9 jan. kl. 03:00 – 12:00</div>
  <div class="bd" style="top:72px">Norðvestan 20-25 m/s með snjókomu og<br>skafrenningi, stórhríð á köflum. Lélegt skyggni og<br>ekkert ferðaveður.</div>

  <!-- matrix -->
  <div class="abs" style="left:70px;top:145px;width:138px;height:109px;background:#fff">
    <svg width="138" height="109" viewBox="0 0 138 109">
      <g><rect x="0" y="0.3" width="33.8" height="26.85" fill="#3f8f23"/><rect x="34.15" y="0.3" width="33.75" height="26.85" fill="#f9e76b"/><rect x="68.25" y="0.3" width="33.75" height="26.85" fill="#ee8f46"/><rect x="102.35" y="0.3" width="34.05" height="26.85" fill="#e34040"/><rect x="0" y="27.5" width="33.8" height="26.75" fill="#3f8f23"/><rect x="34.15" y="27.5" width="33.75" height="26.75" fill="#f9e76b"/><rect x="68.25" y="27.5" width="33.75" height="26.75" fill="#ee8f46"/><rect x="102.35" y="27.5" width="34.05" height="26.75" fill="#ee8f46"/><rect x="0" y="54.6" width="33.8" height="26.75" fill="#3f8f23"/><rect x="34.15" y="54.6" width="33.75" height="26.75" fill="#3f8f23"/><rect x="68.25" y="54.6" width="33.75" height="26.75" fill="#f9e76b"/><rect x="102.35" y="54.6" width="34.05" height="26.75" fill="#ee8f46"/><rect x="0" y="81.7" width="33.8" height="27" fill="#3f8f23"/><rect x="34.15" y="81.7" width="33.75" height="27" fill="#3f8f23"/><rect x="68.25" y="81.7" width="33.75" height="27" fill="#f9e76b"/><rect x="102.35" y="81.7" width="34.05" height="27" fill="#f9e76b"/></g>
      <path d="M77.2 41 L83.3 46.2 L93 35.6" fill="none" stroke="#2a2a2a" stroke-width="2.1"/>
    </svg>
  </div>
  <div class="abs" style="left:41.5px;top:151px;font-size:9px;color:#666">Miklar</div>
  <div class="abs" style="left:43.5px;top:238.5px;font-size:9px;color:#666">Litlar</div>
  <svg class="abs" style="left:36px;top:165px" width="34" height="75" viewBox="0 0 34 75"><path d="M14 2 L20 2 L18.2 28 L15.8 28 Z" fill="#d4d4d4"/><path d="M16.2 42 L17.8 42 L17.3 72 L16.7 72 Z" fill="#d4d4d4"/><rect x="0.5" y="27.5" width="32" height="15" fill="#fff" stroke="#aaa"/></svg>
  <div class="abs" style="left:36px;top:192.5px;width:33px;text-align:center;font-size:9px;font-weight:bold;color:#444;line-height:15px">Likur</div>
  <div class="abs" style="left:77.5px;top:262.4px;font-size:9px;color:#666">Lítil</div>
  <div class="abs" style="left:184.6px;top:262.4px;font-size:9px;color:#666">Mikil</div>
  <svg class="abs" style="left:94px;top:259px" width="88" height="18" viewBox="0 0 88 18"><path d="M2 8.3 L28 7.7 L28 9.3 L2 8.7 Z" fill="#d0d0d0"/><path d="M60 7.3 L85 5.6 L85 11.4 L60 9.7 Z" fill="#d4d4d4"/><rect x="28.5" y="1.5" width="32" height="15" fill="#fff" stroke="#aaa"/></svg>
  <div class="abs" style="left:122px;top:260.5px;width:33px;text-align:center;font-size:9px;font-weight:bold;color:#444;line-height:15px">Áhrif</div>

  <div class="hr" style="left:212px;top:156.4px;width:102px"></div>
  <div class="hr" style="left:212px;top:183px;width:102px"></div>
  <div class="abs" style="left:218px;top:164.3px;font-size:10.65px;color:#444">Mjög líklegt</div>
  <div class="abs" style="left:218px;top:190.4px;font-size:10.65px;color:#444">Mikil áhrif</div>

  <div class="abs" style="left:42px;top:296px;font-size:12.1px;color:#3f6fae"><span style="text-decoration:underline">Frekari upplýsingar</span></div><svg class="abs" style="left:147px;top:297.8px" width="12" height="11" viewBox="0 0 12 11"><path d="M1 5.5 L10 5.5 M6.5 2 L10 5.5 L6.5 9" fill="none" stroke="#ec9447" stroke-width="1.1"/></svg>
  <div class="abs lnk" style="left:248.8px;top:297.2px;font-size:10.5px">Sjá minna</div><div class="abs" style="left:300.5px;top:302.6px;width:6px;height:1.3px;background:#ec9447"></div>
  <div class="hr" style="left:42px;top:323px;width:266px"></div>

  <svg class="abs" style="left:12.7px;top:332.8px" width="22" height="24" viewBox="0 0 22 24"><g transform="translate(11 11)"><circle r="9.5" fill="#f8df1f" filter="url(#sh)"/><g transform="translate(-.3 .3) scale(.83)"><use href="#sockK"/><use href="#flakeK" x="5.6" y="-3.4"/></g></g></svg>
  <div class="ttl" style="top:335.6px"><span class="tt">Norðvestan hvassviðri með éljum</span></div><div class="sm" style="left:248.8px;top:340px">(Gult ástand)</div>
  <svg class="abs" style="left:293px;top:339px" width="12" height="9" viewBox="0 0 12 9"><path d="M1.5 7.5 L6 2.5 L10.5 7.5" fill="none" stroke="#555" stroke-width="1.6"/></svg>
  <div class="dt" style="top:358px">9 jan. kl. 12:00 – 17:00</div>
  <div class="bd" style="top:372.6px">Norðvestan 15-23 m/s og dálítil él eða<br>skafrenningur með lélegu skyggni og erfiðum<br>akstursskilyrðum.</div>
  <div class="abs lnk" style="left:42px;top:438.6px;font-size:11.9px">Sjá meira</div><svg class="abs" style="left:96px;top:441px" width="10" height="10" viewBox="0 0 10 10"><path d="M1.2 5 H8.8 M5 1.2 V8.8" stroke="#ec9447" stroke-width="1.4" fill="none"/></svg>
  <div class="hr" style="left:0;top:470px;width:336px;background:#dcdcdc"></div>
  <div class="h3" style="top:479px">Austurland að Glettingi</div>
</div>

<!-- timeline -->
<div class="abs" style="left:302px;top:485px;font-size:9.2px;color:#666">Uppfært 11:43</div>
<div id="tl"></div>
<div class="abs" style="left:364px;top:525px;width:86px;height:32px;border:1px solid #ddd;border-radius:4px;font-size:15.2px;color:#2f6f8f;text-align:center;line-height:30px;background:#fff">Allir tímar</div>

<div class="sep" style="left:460px"></div><div class="sep" style="left:607px"></div><div class="sep" style="left:754px"></div><div class="sep" style="left:901px"></div>
<div class="day" style="left:461px">föstudagur</div>
<div class="day" style="left:608px">laugardagur</div>
<div class="day" style="left:755px">sunnudagur</div>
<div class="day" style="left:902px">mánudagur</div>

<div class="abs" style="left:460px;top:539px;width:540px;height:4px;background:#62c1e3"></div>
<div class="abs" style="left:459px;top:536px;width:3px;height:10px;background:#62c1e3"></div>
<div class="abs" style="left:614px;top:536.5px;width:148px;height:9px;background:rgba(246,226,58,.85)"></div>
<div class="abs" style="left:620px;top:536.5px;width:98px;height:9px;background:rgba(228,138,84,.82)"></div>

<div class="hrl" style="left:445.4px">00</div>
<div class="hrl" style="left:482.1px">06</div>
<div class="tick" style="left:496.6px"></div>
<div class="hrl" style="left:518.8px">12</div>
<div class="tick" style="left:533.3px"></div>
<div class="hrl" style="left:555.5px">18</div>
<div class="tick" style="left:570.0px"></div>
<div class="hrl" style="left:592.2px">00</div>
<div class="hrl" style="left:629.0px">06</div>
<div class="tick" style="left:643.5px"></div>
<div class="hrl" style="left:665.7px">12</div>
<div class="tick" style="left:680.2px"></div>
<div class="hrl" style="left:702.4px">18</div>
<div class="tick" style="left:716.9px"></div>
<div class="hrl" style="left:739.1px">00</div>
<div class="hrl" style="left:775.8px">06</div>
<div class="tick" style="left:790.3px"></div>
<div class="hrl" style="left:812.5px">12</div>
<div class="tick" style="left:827.0px"></div>
<div class="hrl" style="left:849.2px">18</div>
<div class="tick" style="left:863.7px"></div>
<div class="hrl" style="left:885.9px">00</div>
<div class="hrl" style="left:922.7px">06</div>
<div class="tick" style="left:937.2px"></div>
<div class="hrl" style="left:959.4px">12</div>
<div class="tick" style="left:973.9px"></div>

<div class="abs" style="left:410.6px;top:500px;width:3.9px;height:78px;background:rgba(184,166,152,.58)"></div><svg class="abs" style="left:404.5px;top:504px" width="16" height="10" viewBox="0 0 16 10"><path d="M2 0 L14 0 L9 9 L7 9 Z" fill="#b9a798"/></svg>
<div class="abs" style="left:404.5px;top:492.5px;width:16px;height:16px;border-radius:8px;background:#b9a798"></div>

<div class="btn" style="left:13.5px;top:525.5px"><svg width="30" height="30" viewBox="0 0 30 30"><path d="M19 9 L19 21 L9.5 15 Z" fill="#fff"/></svg></div>
<div class="abs" style="left:981px;top:499px;width:11px;height:86px;background:linear-gradient(to right,rgba(0,0,0,0),rgba(0,0,0,.05) 40%,rgba(0,0,0,.13) 100%);border-top-left-radius:8px"></div>
<div class="btn" style="left:950.5px;top:525.5px"><svg width="30" height="30" viewBox="0 0 30 30"><path d="M11 9 L11 21 L20.5 15 Z" fill="#fff"/></svg></div>

</div>
</body>
</html>
